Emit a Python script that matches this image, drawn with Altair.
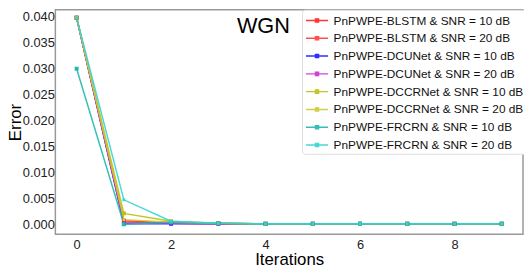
import altair as alt
import pandas as pd

iterations = list(range(10))
series_names = [
    "PnPWPE-BLSTM & SNR = 10 dB",
    "PnPWPE-BLSTM & SNR = 20 dB",
    "PnPWPE-DCUNet & SNR = 10 dB",
    "PnPWPE-DCUNet & SNR = 20 dB",
    "PnPWPE-DCCRNet & SNR = 10 dB",
    "PnPWPE-DCCRNet & SNR = 20 dB",
    "PnPWPE-FRCRN & SNR = 10 dB",
    "PnPWPE-FRCRN & SNR = 20 dB",
]
blstm_10 = [0.0398, 0.0008, 0.0004, 0.0003, 0.0002, 0.0002, 0.0002, 0.0002, 0.0002, 0.0002]
blstm_20 = [0.0398, 0.0006, 0.0003, 0.0002, 0.0002, 0.0002, 0.0002, 0.0002, 0.0002, 0.0002]
dcunet_10 = [0.0398, 0.0002, 0.0002, 0.0002, 0.0002, 0.0002, 0.0002, 0.0002, 0.0002, 0.0002]
dcunet_20 = [0.0398, 0.0004, 0.0003, 0.0002, 0.0002, 0.0002, 0.0002, 0.0002, 0.0002, 0.0002]
dccrnet_10 = [0.0398, 0.0022, 0.0007, 0.0003, 0.0002, 0.0002, 0.0002, 0.0002, 0.0002, 0.0002]
dccrnet_20 = [0.0398, 0.0010, 0.0005, 0.0003, 0.0002, 0.0002, 0.0002, 0.0002, 0.0002, 0.0002]
frcrn_10 = [0.0300, 0.0001, 0.0005, 0.0003, 0.0002, 0.0002, 0.0002, 0.0002, 0.0002, 0.0002]
frcrn_20 = [0.0398, 0.0048, 0.0007, 0.0003, 0.0002, 0.0002, 0.0002, 0.0002, 0.0002, 0.0002]
series_colors = ["#ff2020", "#ff3c3c", "#1a1aff", "#cc33cc",
                 "#bfbf10", "#cccc33", "#20b8b0", "#33d4d4"]
snr_levels = ["10 dB", "20 dB"]

all_values = [blstm_10, blstm_20, dcunet_10, dcunet_20,
              dccrnet_10, dccrnet_20, frcrn_10, frcrn_20]
rows = []
for k, (name, vals) in enumerate(zip(series_names, all_values)):
    for it, v in zip(iterations, vals):
        rows.append({"Iterations": it, "Error": v, "series": name,
                     "snr": name[-5:], "k": k})
df = pd.DataFrame(rows)

FONT = "Liberation Sans"

x_enc = alt.X("Iterations:Q",
              scale=alt.Scale(domain=[-0.45, 9.45], nice=False, zero=False),
              axis=alt.Axis(values=[0, 2, 4, 6, 8], format="d", title="Iterations"))
y_enc = alt.Y("Error:Q",
              scale=alt.Scale(domain=[-0.00182, 0.04133], nice=False, zero=False),
              axis=alt.Axis(values=[0, 0.005, 0.01, 0.015, 0.02, 0.025, 0.03, 0.035, 0.04],
                            format=".3f", title="Error"))
color_enc = alt.Color(
    "series:N",
    scale=alt.Scale(domain=series_names, range=series_colors),
    sort=series_names,
    legend=alt.Legend(
        title=None, orient="none", legendX=250, legendY=0,
        symbolType="M-1,0H2.2M0.38,-0.22H0.82V0.22H0.38Z",
        symbolSize=196, symbolStrokeWidth=1.5, labelOffset=13,
        labelFontSize=12, labelFont=FONT, labelColor="#111", labelLimit=0,
        rowPadding=4, padding=3, fillColor="white", strokeColor="#dddddd",
        cornerRadius=3,
    ),
)

lines = alt.Chart(df).mark_line(strokeWidth=1.5, opacity=0.9).encode(
    x=x_enc, y=y_enc, color=color_enc, detail="k:O")
points = alt.Chart(df).mark_point(shape="square", filled=True, opacity=1).encode(
    x=x_enc, y=y_enc, color=color_enc,
    size=alt.Size("snr:N", scale=alt.Scale(domain=snr_levels, range=[16, 8]), legend=None))

chart = alt.layer(lines, points).properties(
    width=474, height=227.6,
    autosize=alt.AutoSizeParams(type="none"),
    padding={"left": 48, "top": 0, "right": 1, "bottom": 33},
    title=alt.TitleParams(text="WGN", anchor="start", frame="group", orient="top",
                          offset=0, dx=184, dy=46, baseline="alphabetic",
                          fontSize=22, font=FONT, fontWeight="normal", color="black"),
).configure_view(
    stroke="#999999", strokeWidth=1.5
).configure_axis(
    domain=False, ticks=False, tickSize=0, grid=False,
    labelFont=FONT, labelFontSize=13, labelColor="#222",
    titleFont=FONT, titleFontSize=17, titleFontWeight="normal", titleColor="black",
).configure_axisY(labelPadding=1, titlePadding=-2).configure_axisX(labelPadding=4, titlePadding=1)

chart.save("out.html", embed_options={"renderer": "svg", "actions": False})
